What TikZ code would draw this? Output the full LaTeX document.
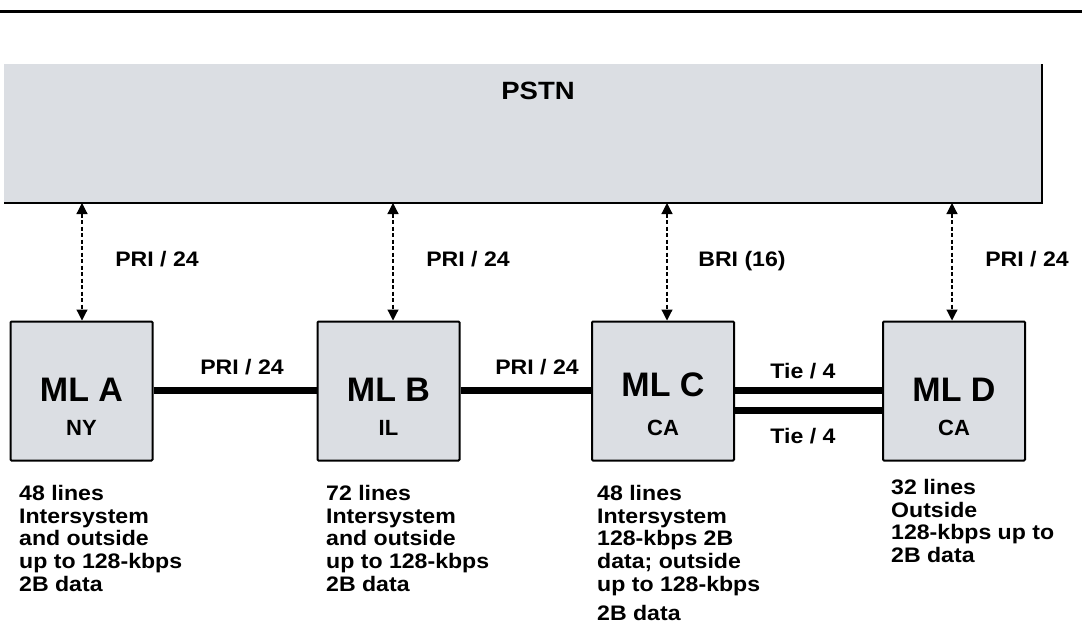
\documentclass[tikz,border=0pt]{standalone}
\usepackage{fontspec}
\setmainfont{Liberation Sans}[FakeStretch=1.1]
\newfontfamily\boxfont{Liberation Sans}
\usepackage{tikz}
\usetikzlibrary{arrows.meta}
\definecolor{boxgray}{HTML}{DBDEE3}

\begin{document}
\begin{tikzpicture}[x=1pt, y=-1pt,
    pstnbox/.style={fill=boxgray, minimum width=1038pt, minimum height=139pt, inner sep=0pt, outer sep=0pt},
    mlbox/.style={draw=black, fill=boxgray, line width=2pt, rounded corners=1pt, minimum width=142pt, minimum height=139pt, inner sep=0pt},
    mlname/.style={font=\boxfont\bfseries\fontsize{34}{34}\selectfont, inner sep=0pt},
    mlstate/.style={font=\boxfont\bfseries\fontsize{22}{22}\selectfont, inner sep=0pt},
    lbl/.style={font=\bfseries\fontsize{21}{21}\selectfont, inner sep=0pt, anchor=base},
    note/.style={font=\bfseries\fontsize{21}{22.7}\selectfont, inner sep=0pt, align=left, anchor=north west},
    trunk/.style={line width=7pt},
    pstnlink/.style={line width=1.2pt, dash pattern=on 4pt off 2.5pt, {Triangle[width=11pt,length=11pt]}-{Triangle[width=11pt,length=11pt]}}]
    \useasboundingbox (0,0) rectangle (1082,624);

    % rule at the top
    \coordinate (rl) at (0,11.5);
    \coordinate (rr) at (1082,11.5);
    \draw[line width=3pt] (rl) -- (rr);

    % PSTN
    \node[pstnbox] (pstn) at (523,133.5) {};
    \draw[line width=2pt] (pstn.north east) -- (pstn.south east) -- (pstn.south west);
    \node[font=\bfseries\fontsize{25}{25}\selectfont, inner sep=0pt] (pstnlbl) at (538,91) {PSTN};

    % the four systems
    \node[mlbox] (mlA) at (81.5,391) {};
    \node[mlbox] (mlB) at (388.5,391) {};
    \node[mlbox] (mlC) at (663,391) {};
    \node[mlbox] (mlD) at (954,391) {};
    \node[mlname] (mlAname) at ([yshift=1.5pt]mlA.center) {ML A};
    \node[mlname] (mlBname) at ([yshift=1.5pt]mlB.center) {ML B};
    \node[mlname] (mlCname) at ([yshift=6.5pt]mlC.center) {ML C};
    \node[mlname] (mlDname) at ([yshift=1.5pt]mlD.center) {ML D};
    \node[mlstate] (mlAst) at ([yshift=-36.5pt]mlA.center) {NY};
    \node[mlstate] (mlBst) at ([yshift=-36.5pt]mlB.center) {IL};
    \node[mlstate] (mlCst) at ([yshift=-36.5pt]mlC.center) {CA};
    \node[mlstate] (mlDst) at ([yshift=-36.5pt]mlD.center) {CA};

    % links to the PSTN
    \coordinate (tA) at ([xshift=0.5pt]mlA.north);
    \coordinate (tB) at ([xshift=4.5pt]mlB.north);
    \coordinate (tC) at ([xshift=4pt]mlC.north);
    \coordinate (tD) at ([xshift=-2pt]mlD.north);
    \draw[pstnlink] (tA |- pstn.south) -- (tA);
    \draw[pstnlink] (tB |- pstn.south) -- (tB);
    \draw[pstnlink] (tC |- pstn.south) -- (tC);
    \draw[pstnlink] (tD |- pstn.south) -- (tD);
    \node[lbl] (upA) at (157,266) {PRI / 24};
    \node[lbl] (upB) at (468,266) {PRI / 24};
    \node[lbl] (upC) at (742,266) {BRI (16)};
    \node[lbl] (upD) at (1027,266) {PRI / 24};

    % links between the systems
    \draw[trunk] ([yshift=1pt]mlA.east) -- ([yshift=1pt]mlB.west);
    \draw[trunk] ([yshift=1pt]mlB.east) -- ([yshift=1pt]mlC.west);
    \draw[trunk] ([yshift=1pt]mlC.east) -- ([yshift=1pt]mlD.west);
    \draw[trunk] ([yshift=-19pt]mlC.east) -- ([yshift=-19pt]mlD.west);
    \node[lbl] (ab) at (242,374) {PRI / 24};
    \node[lbl] (bc) at (537,374) {PRI / 24};
    \node[lbl] (cd1) at (803,378) {Tie / 4};
    \node[lbl] (cd2) at (803,443) {Tie / 4};

    % notes under the boxes
    \node[note] (noteA) at (19,485) {48 lines\\Intersystem\\and outside\\up to 128-kbps\\2B data};
    \node[note] (noteB) at (326,485) {72 lines\\Intersystem\\and outside\\up to 128-kbps\\2B data};
    \node[note] (noteC) at (597,485) {48 lines\\Intersystem\\128-kbps 2B\\data; outside\\up to 128-kbps\\[7pt]2B data};
    \node[note] (noteD) at (891,479) {32 lines\\Outside\\128-kbps up to\\2B data};
\end{tikzpicture}
\end{document}
